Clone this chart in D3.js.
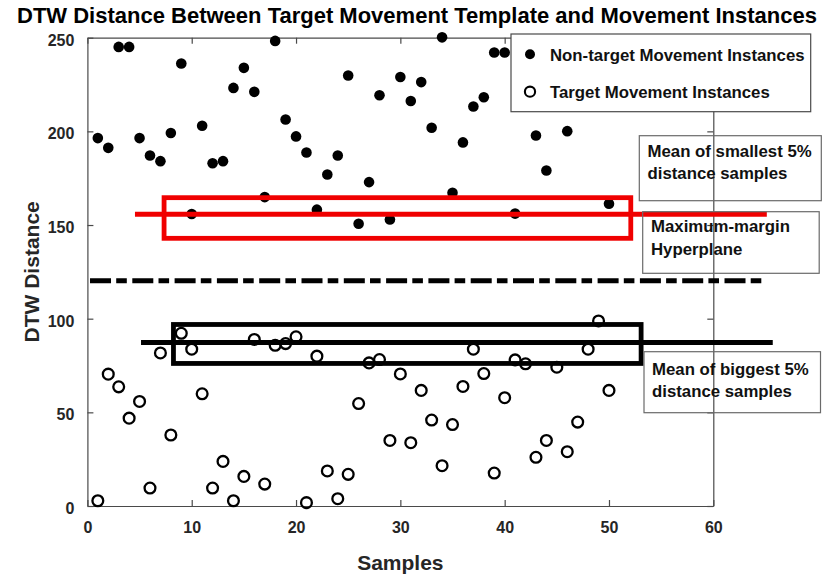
<!DOCTYPE html>
<html>
<head>
<meta charset="utf-8">
<script src="https://cdn.jsdelivr.net/npm/d3@7"></script>
<style>
  html, body { margin: 0; padding: 0; background: #fff; }
  svg text { font-family: "Liberation Sans", Arial, Helvetica, sans-serif; font-weight: bold; }
</style>
</head>
<body>
<svg id="chart" width="825" height="577"></svg>
<script>
// Non-target movement instances (filled markers)
const nonTargetSamples = [1,2,3,4,5,6,7,8,9,10,11,12,13,14,15,16,17,18,19,20,
  21,22,23,24,25,26,27,28,29,30,31,32,33,34,35,36,37,38,39,40,41,43,44,46,50];
const nonTargetDist = [196.4,191.2,245.1,245.1,196.4,187.1,184.1,199.1,236.2,155.9,
  203.0,183.0,184.1,223.2,233.9,221.1,164.9,248.3,206.3,197.3,
  188.7,158.2,177.0,187.1,229.8,150.7,172.9,219.3,153.0,229.0,
  216.2,226.3,201.9,250.2,167.2,194.1,213.3,218.2,242.1,242.1,156.1,197.8,179.1,200.1,161.4];

// Target movement instances (open markers)
const targetSamples = [1,2,3,4,5,6,7,8,9,10,11,12,13,14,15,16,17,18,19,20,
  21,22,23,24,25,26,27,28,29,30,31,32,33,34,35,36,37,38,39,40,
  41,42,43,44,45,46,47,48,49,50];
const targetDist = [2.8,70.4,63.6,46.9,55.8,9.6,81.7,37.9,92.2,83.7,
  59.9,9.6,23.8,2.8,15.8,88.9,11.7,85.8,86.7,90.3,
  1.8,80.0,18.7,3.9,16.9,54.7,76.4,78.2,35.0,70.5,
  33.8,61.7,45.9,21.5,43.5,63.8,83.7,70.7,17.6,57.8,
  78.0,75.9,26.0,35.0,74.1,29.0,44.8,83.7,98.8,61.7];

// Reference levels: [value, xStart, xEnd]
const smallestMeanLine = [155.8, 4.56, 65.13];
const smallestBox = [7.35, 52.09, 142.9, 164.6];   // x0, x1, y0, y1
const biggestMeanLine = [87.3, 5.14, 65.7];
const biggestBox = [8.25, 53.08, 76.1, 96.9];
const hyperplaneLine = [120.3, 0.25, 64.7];

const xTicks = [0, 10, 20, 30, 40, 50, 60];
const yTicks = [0, 50, 100, 150, 200, 250];

const titleText = "DTW Distance Between Target Movement Template and Movement Instances";
const legendLabels = ["Non-target Movement Instances", "Target Movement Instances"];
const noteLabels = [
  ["Mean of smallest 5%", "distance samples"],
  ["Maximum-margin", "Hyperplane"],
  ["Mean of biggest 5%", "distance samples"]
];

const svg = d3.select("#chart");
const plot = { left: 87.4, right: 713.3, top: 37.7, bottom: 506 };

const x = d3.scaleLinear().domain([0, 60]).range([plot.left, plot.right]);
const y = d3.scaleLinear().domain([0, 250]).range([plot.bottom, plot.top]);

const axisColor = "#4a4a4a";
const labelColor = "#262626";

svg.append("rect").attr("width", 825).attr("height", 577).attr("fill", "#fff");

// Title
svg.append("text")
  .attr("x", 417).attr("y", 23)
  .attr("text-anchor", "middle")
  .attr("font-size", 22).attr("fill", "#000")
  .text(titleText);

// Axes (ticks point inward, box style)
const tickLen = 6;
const bottomAxis = svg.append("g").attr("transform", `translate(0,${plot.bottom})`)
  .call(d3.axisBottom(x).tickValues(xTicks).tickSizeInner(-tickLen).tickSizeOuter(0).tickPadding(16));
const leftAxis = svg.append("g").attr("transform", `translate(${plot.left},0)`)
  .call(d3.axisLeft(y).tickValues(yTicks).tickSizeInner(-tickLen).tickSizeOuter(0).tickPadding(14));
const topAxis = svg.append("g").attr("transform", `translate(0,${plot.top})`)
  .call(d3.axisTop(x).tickValues(xTicks).tickSizeInner(-tickLen).tickSizeOuter(0).tickFormat(""));
const rightAxis = svg.append("g").attr("transform", `translate(${plot.right},0)`)
  .call(d3.axisRight(y).tickValues(yTicks).tickSizeInner(-tickLen).tickSizeOuter(0).tickFormat(""));

[bottomAxis, leftAxis, topAxis, rightAxis].forEach(g => {
  g.select(".domain").attr("stroke", axisColor).attr("stroke-width", 1.2);
  g.selectAll(".tick line").attr("stroke", axisColor).attr("stroke-width", 1.2);
  g.selectAll(".tick text")
    .attr("font-size", 16).attr("fill", labelColor)
    .attr("font-family", "Liberation Sans, Arial, sans-serif").attr("font-weight", "bold");
});
leftAxis.selectAll(".tick text").attr("dy", "0.46em").attr("dx", 1);
bottomAxis.selectAll(".tick text").attr("dy", "0.71em");

// Axis labels
svg.append("text")
  .attr("x", (plot.left + plot.right) / 2).attr("y", 570)
  .attr("text-anchor", "middle").attr("font-size", 21).attr("fill", labelColor)
  .text("Samples");
svg.append("text")
  .attr("transform", `translate(39,${(plot.top + plot.bottom) / 2}) rotate(-90)`)
  .attr("text-anchor", "middle").attr("font-size", 21).attr("fill", labelColor)
  .text("DTW Distance");

// Markers
const nonTarget = nonTargetSamples.map((s, i) => ({ s, d: nonTargetDist[i] }));
const target = targetSamples.map((s, i) => ({ s, d: targetDist[i] }));

svg.append("g").selectAll("circle").data(nonTarget).join("circle")
  .attr("cx", d => x(d.s)).attr("cy", d => y(d.d)).attr("r", 5.3)
  .attr("fill", "#000");

svg.append("g").selectAll("circle").data(target).join("circle")
  .attr("cx", d => x(d.s)).attr("cy", d => y(d.d)).attr("r", 5.4)
  .attr("fill", "none").attr("stroke", "#000").attr("stroke-width", 2.3);

// Bands and reference lines
function band(b, color) {
  svg.append("rect")
    .attr("x", x(b[0])).attr("y", y(b[3]))
    .attr("width", x(b[1]) - x(b[0])).attr("height", y(b[2]) - y(b[3]))
    .attr("fill", "none").attr("stroke", color).attr("stroke-width", 4.8);
}
function hline(l, color, dash) {
  const ln = svg.append("line")
    .attr("x1", x(l[1])).attr("x2", x(l[2]))
    .attr("y1", y(l[0])).attr("y2", y(l[0]))
    .attr("stroke", color).attr("stroke-width", 5);
  if (dash) ln.attr("stroke-dasharray", dash);
}
band(smallestBox, "#f00000");
hline(smallestMeanLine, "#f00000");
band(biggestBox, "#000");
hline(biggestMeanLine, "#000");
hline(hyperplaneLine, "#000", "21,5.2,10.6,5.5");

// Text annotations (transparent boxes)
const noteBoxes = [
  { x: 639.3, y: 135.7, w: 182, h: 65, tx: 647.5, ty: [157, 179] },
  { x: 642.7, y: 211.7, w: 176.5, h: 61.6, tx: 651, ty: [232, 255] },
  { x: 644, y: 351.7, w: 176.5, h: 61, tx: 652, ty: [375, 397] }
];
noteBoxes.forEach((b, i) => {
  svg.append("rect")
    .attr("x", b.x).attr("y", b.y).attr("width", b.w).attr("height", b.h)
    .attr("fill", "none").attr("stroke", "#6a6a6a").attr("stroke-width", 1.2);
  noteLabels[i].forEach((t, j) => {
    svg.append("text").attr("x", b.tx).attr("y", b.ty[j])
      .attr("font-size", 16.8).attr("fill", "#111").text(t);
  });
});

// Legend
const legend = svg.append("g");
legend.append("rect")
  .attr("x", 511).attr("y", 34).attr("width", 299.7).attr("height", 77.7)
  .attr("fill", "#fff").attr("stroke", "#4a4a4a").attr("stroke-width", 1.2);
legend.append("circle").attr("cx", 530).attr("cy", 54.3).attr("r", 5).attr("fill", "#000");
legend.append("circle").attr("cx", 530).attr("cy", 91.7).attr("r", 5.1)
  .attr("fill", "none").attr("stroke", "#000").attr("stroke-width", 2.1);
legend.append("text").attr("x", 550).attr("y", 61).attr("font-size", 16.8).attr("fill", "#111")
  .text(legendLabels[0]);
legend.append("text").attr("x", 550).attr("y", 98.3).attr("font-size", 16.8).attr("fill", "#111")
  .text(legendLabels[1]);
</script>
</body>
</html>
